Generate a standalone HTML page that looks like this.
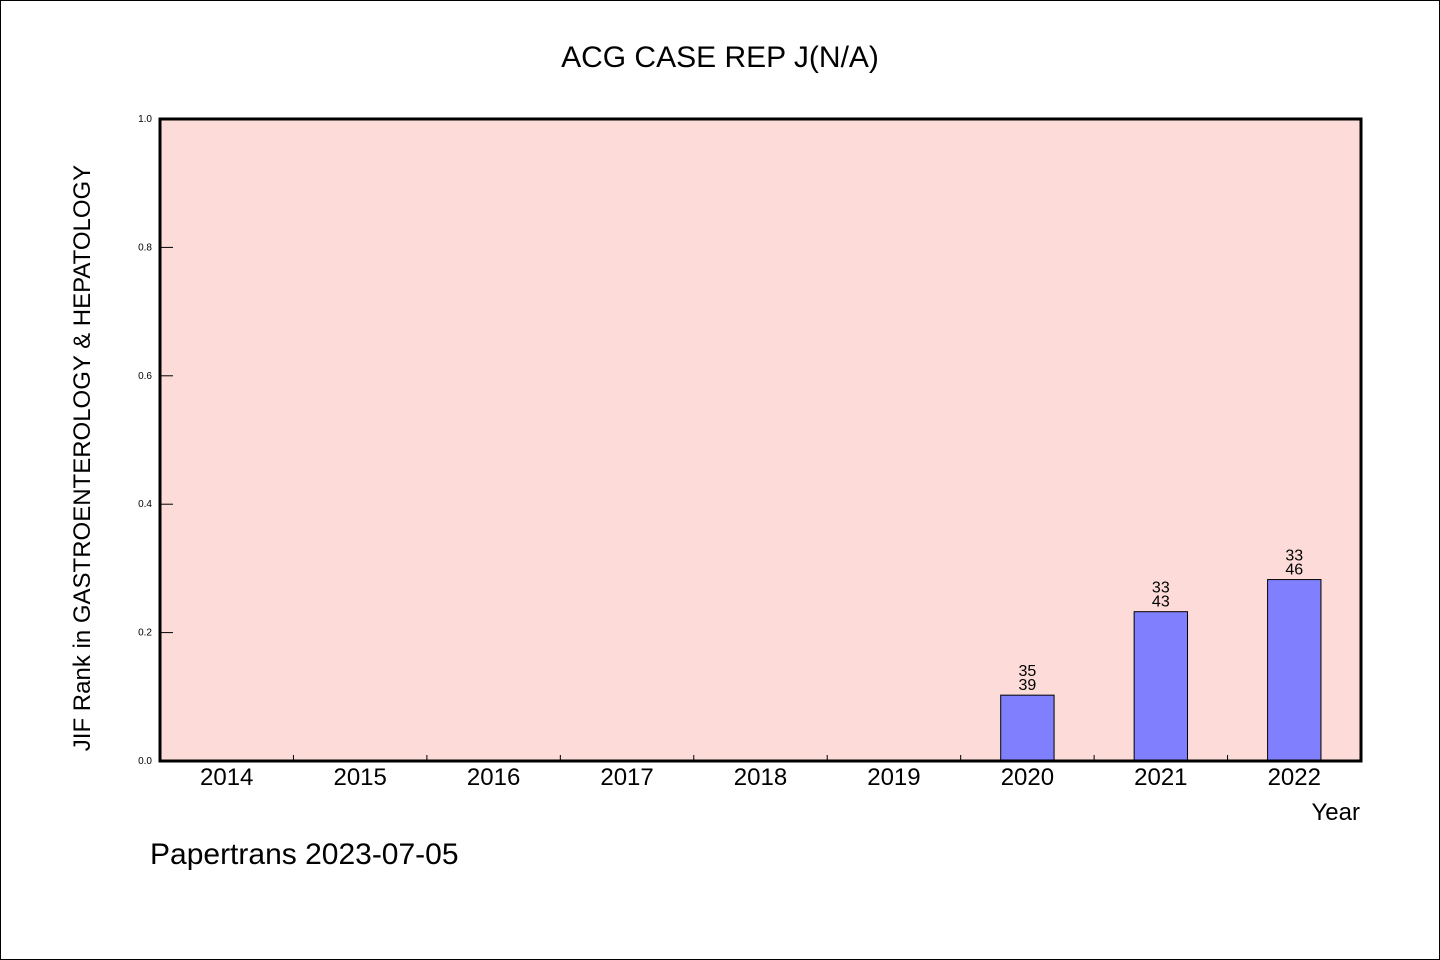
<!DOCTYPE html>
<html><head><meta charset="utf-8"><style>
html,body{margin:0;padding:0;background:#fff}
svg{display:block}
text{font-family:"WenQuanYi Zen Hei","Liberation Sans",sans-serif}
</style></head><body>
<svg id="chart" width="1440" height="960" xmlns="http://www.w3.org/2000/svg">
<rect x="0.5" y="0.5" width="1439" height="959" fill="#fff" stroke="#000"/>
<text x="720" y="67" font-size="30" text-anchor="middle">ACG CASE REP J(N/A)</text>
<rect x="160" y="119" width="1201" height="642" fill="#fddbd8"/>
<g id="bars"></g>
<rect x="160" y="119" width="1201" height="642" fill="none" stroke="#000" stroke-width="3"/>
<text transform="translate(90,458) rotate(-90)" font-size="24" text-anchor="middle">JIF Rank in GASTROENTEROLOGY &amp; HEPATOLOGY</text>
<text x="1360" y="820" font-size="24" text-anchor="end">Year</text>
<text x="150" y="864" font-size="30">Papertrans 2023-07-05</text>
</svg>
<script>
const categories=["2014","2015","2016","2017","2018","2019","2020","2021","2022"];
const ranks=[null,null,null,null,null,null,35,33,33];
const totals=[null,null,null,null,null,null,39,43,46];
const yTicks=[0,0.2,0.4,0.6,0.8,1.0];
const NS="http://www.w3.org/2000/svg";
const svg=document.getElementById('chart');
const g=document.getElementById('bars');
const L=160,R=1361,T=119,B=761;
const step=(R-L)/categories.length;
const y=v=>B-(v/1)*(B-T);
const xc=i=>L+step*(i+0.5);
function mk(tag,attrs,parent){const e=document.createElementNS(NS,tag);for(const k in attrs)e.setAttribute(k,attrs[k]);(parent||svg).appendChild(e);return e;}
yTicks.forEach(t=>{
  const l=mk('line',{x1:L,x2:L+13,y1:y(t),y2:y(t),stroke:'#000','stroke-width':1});
  
  
  const tx=mk('text',{x:L-8,y:y(t)+3,'font-size':10,'text-anchor':'end'});
  tx.textContent=t.toFixed(1);
  
  
});
categories.forEach((c,i)=>{
  if(i>0){const l=mk('line',{x1:L+step*i,x2:L+step*i,y1:B,y2:B-6,stroke:'#000','stroke-width':1});
  
  }
  const tx=mk('text',{x:xc(i),y:B+24,'font-size':24,'text-anchor':'middle'});
  tx.textContent=c;
  
  
  if(ranks[i]!=null){
    const v=1-ranks[i]/totals[i];
    const w=step*0.4;
    const b=mk('rect',{x:xc(i)-w/2,y:y(v),width:w,height:B-y(v),fill:'#8080ff',stroke:'#000','stroke-width':1},g);
    
    
    const t1=mk('text',{x:xc(i),y:y(v)-19,'font-size':16,'text-anchor':'middle'});
    t1.textContent=ranks[i];
    
    
    const t2=mk('text',{x:xc(i),y:y(v)-5,'font-size':16,'text-anchor':'middle'});
    t2.textContent=totals[i];
    
    
  }
});
</script>
</body></html>
